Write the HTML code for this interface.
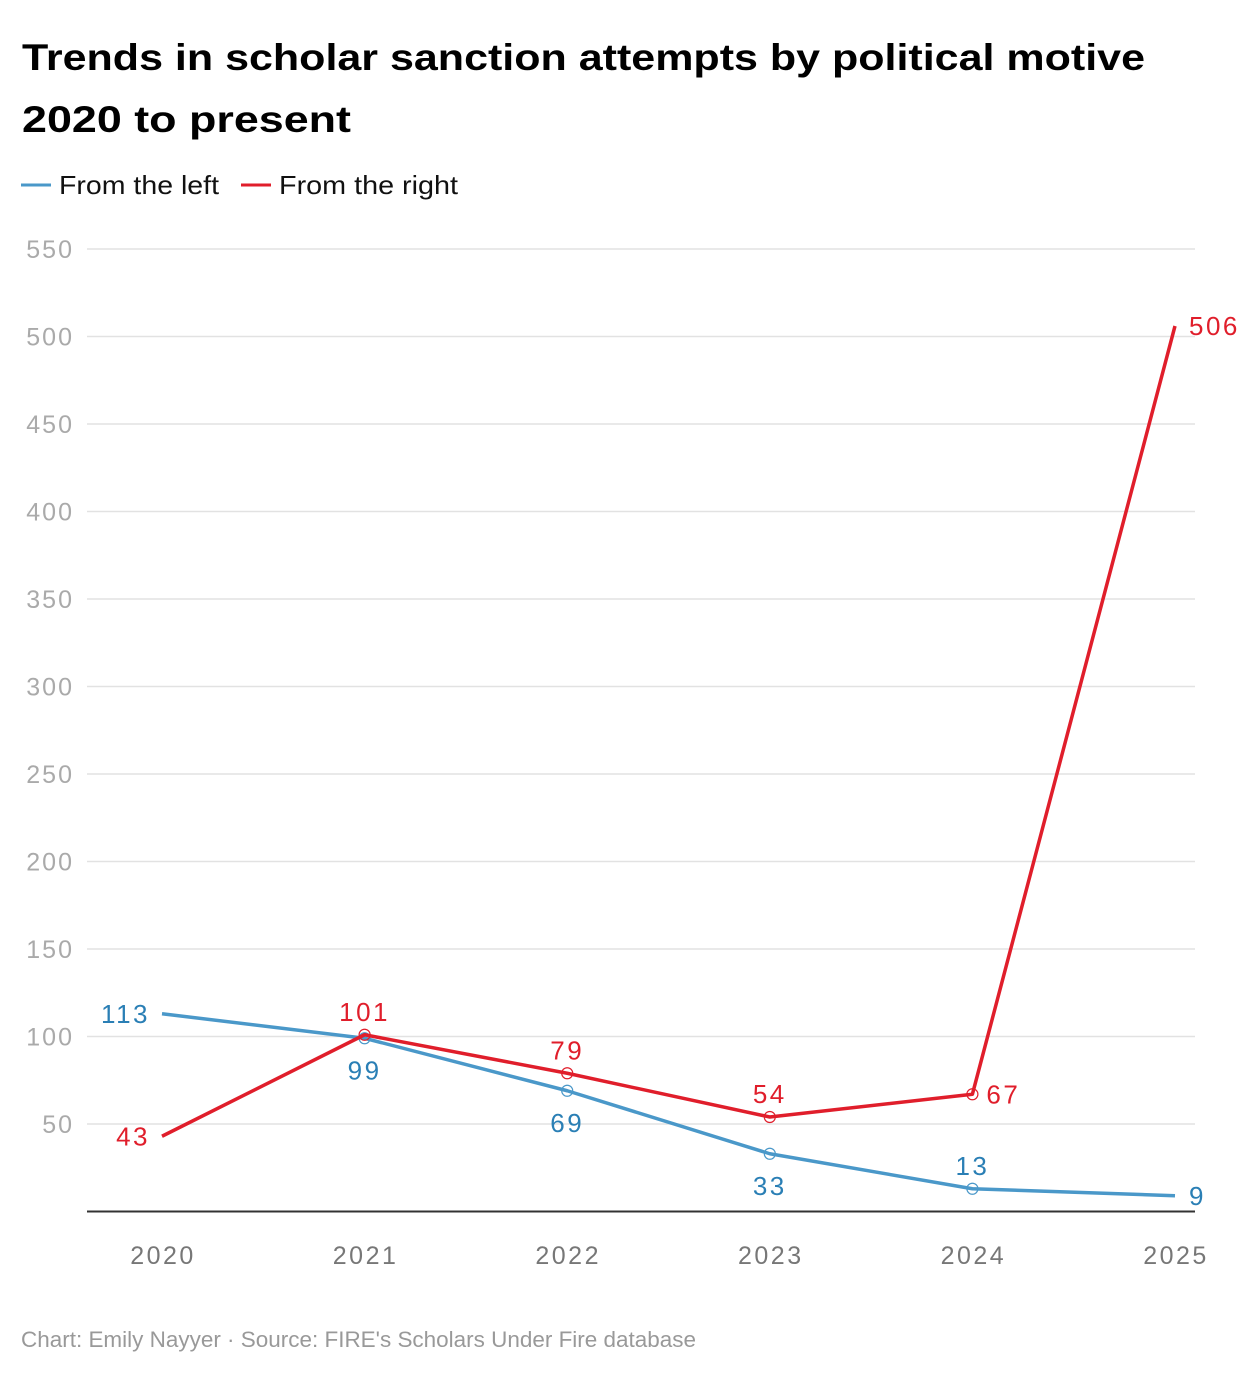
<!DOCTYPE html>
<html><head><meta charset="utf-8">
<style>
html,body{margin:0;padding:0;background:#fff;}
svg{display:block;font-family:"Liberation Sans",sans-serif;}
</style></head>
<body>
<svg id="chart" width="1260" height="1376" viewBox="0 0 1260 1376">
<text x="22" y="70" font-size="37" font-weight="bold" fill="#000" textLength="1123" lengthAdjust="spacingAndGlyphs">Trends in scholar sanction attempts by political motive</text>
<text x="22" y="132" font-size="37" font-weight="bold" fill="#000" textLength="329" lengthAdjust="spacingAndGlyphs">2020 to present</text>
<g>
<g>
<line x1="21" y1="185" x2="51" y2="185" stroke="#4a98c9" stroke-width="3"/>
<text x="59" y="194" font-size="26" fill="#111" textLength="160" lengthAdjust="spacingAndGlyphs">From the left</text></g>
<g>
<line x1="241" y1="185" x2="271" y2="185" stroke="#e01e2b" stroke-width="3"/>
<text x="279" y="194" font-size="26" fill="#111" textLength="179" lengthAdjust="spacingAndGlyphs">From the right</text></g>
</g>
<g id="grid"></g>
<g id="yticks"></g>
<line x1="87" y1="1211.5" x2="1195" y2="1211.5" stroke="#333" stroke-width="2"/>
<g id="xticks"></g>
<g id="series"></g>
<text x="21" y="1347" font-size="22" fill="#999" textLength="675" lengthAdjust="spacingAndGlyphs">Chart: Emily Nayyer  · Source: FIRE's Scholars Under Fire database</text>
</svg>
<script>
const years = [2020, 2021, 2022, 2023, 2024, 2025];
const fromLeft = [113, 99, 69, 33, 13, 9];
const fromRight = [43, 101, 79, 54, 67, 506];
const yTicks = [50, 100, 150, 200, 250, 300, 350, 400, 450, 500, 550];
const leftLabelPos = ['left', 'below', 'below', 'below', 'above', 'right'];
const rightLabelPos = ['left', 'above', 'above', 'above', 'right', 'right'];

const NS = 'http://www.w3.org/2000/svg';
function xScale(i){ return 162 + i * (1175 - 162) / (years.length - 1); }
function yScale(v){ return 1211.5 - v * (87.5 / 50); }
function mk(tag, attrs, parent){ const e = document.createElementNS(NS, tag); for (const k in attrs) e.setAttribute(k, attrs[k]); parent.appendChild(e); return e; }

const grid = document.getElementById('grid'), yt = document.getElementById('yticks');
yTicks.forEach(t => {
  const l = mk('line', {x1: 87, x2: 1195, y1: yScale(t), y2: yScale(t), stroke: '#e2e2e2', 'stroke-width': 1.5}, grid);
  
  
  const tx = mk('text', {x: 74, y: yScale(t) + 9, 'text-anchor': 'end', 'font-size': 25, fill: '#aaa', 'letter-spacing': 2}, yt);
  tx.textContent = t;
  
  
});
const xt = document.getElementById('xticks');
years.forEach((y, i) => {
  const tx = mk('text', {x: xScale(i) + 1, y: 1264, 'text-anchor': 'middle', 'font-size': 25, fill: '#777', 'letter-spacing': 2.5}, xt);
  tx.textContent = y;
  
  
});
const ser = document.getElementById('series');
function drawSeries(vals, line, textCol, pos, name){
  const g = mk('g', {}, ser);
  
  
  const p = mk('polyline', {points: vals.map((v, i) => xScale(i) + ',' + yScale(v)).join(' '), fill: 'none', stroke: line, 'stroke-width': 3.5, 'stroke-linejoin': 'round'}, g);
  
  
  vals.forEach((v, i) => {
    const x = xScale(i), y = yScale(v);
    if (i > 0 && i < vals.length - 1) {
      const c = mk('circle', {cx: x, cy: y, r: 5.5, fill: 'none', stroke: line, 'stroke-width': 1.2}, g);
      
      
    }
    let tx = x, ty = y + 9, anchor = 'middle';
    if (pos[i] === 'left') { tx = x - 12; anchor = 'end'; }
    else if (pos[i] === 'right') { tx = x + 14; anchor = 'start'; }
    else if (pos[i] === 'above') { ty = y - 14; }
    else if (pos[i] === 'below') { ty = y + 41; }
    const t = mk('text', {x: tx, y: ty, 'text-anchor': anchor, 'font-size': 26, fill: textCol, 'letter-spacing': 2.5}, g);
    t.textContent = v;
    
    
  });
}
drawSeries(fromLeft, '#4a98c9', '#2a7fb5', leftLabelPos, 'series-left');
drawSeries(fromRight, '#e01e2b', '#e01e2b', rightLabelPos, 'series-right');
</script>
</body></html>
